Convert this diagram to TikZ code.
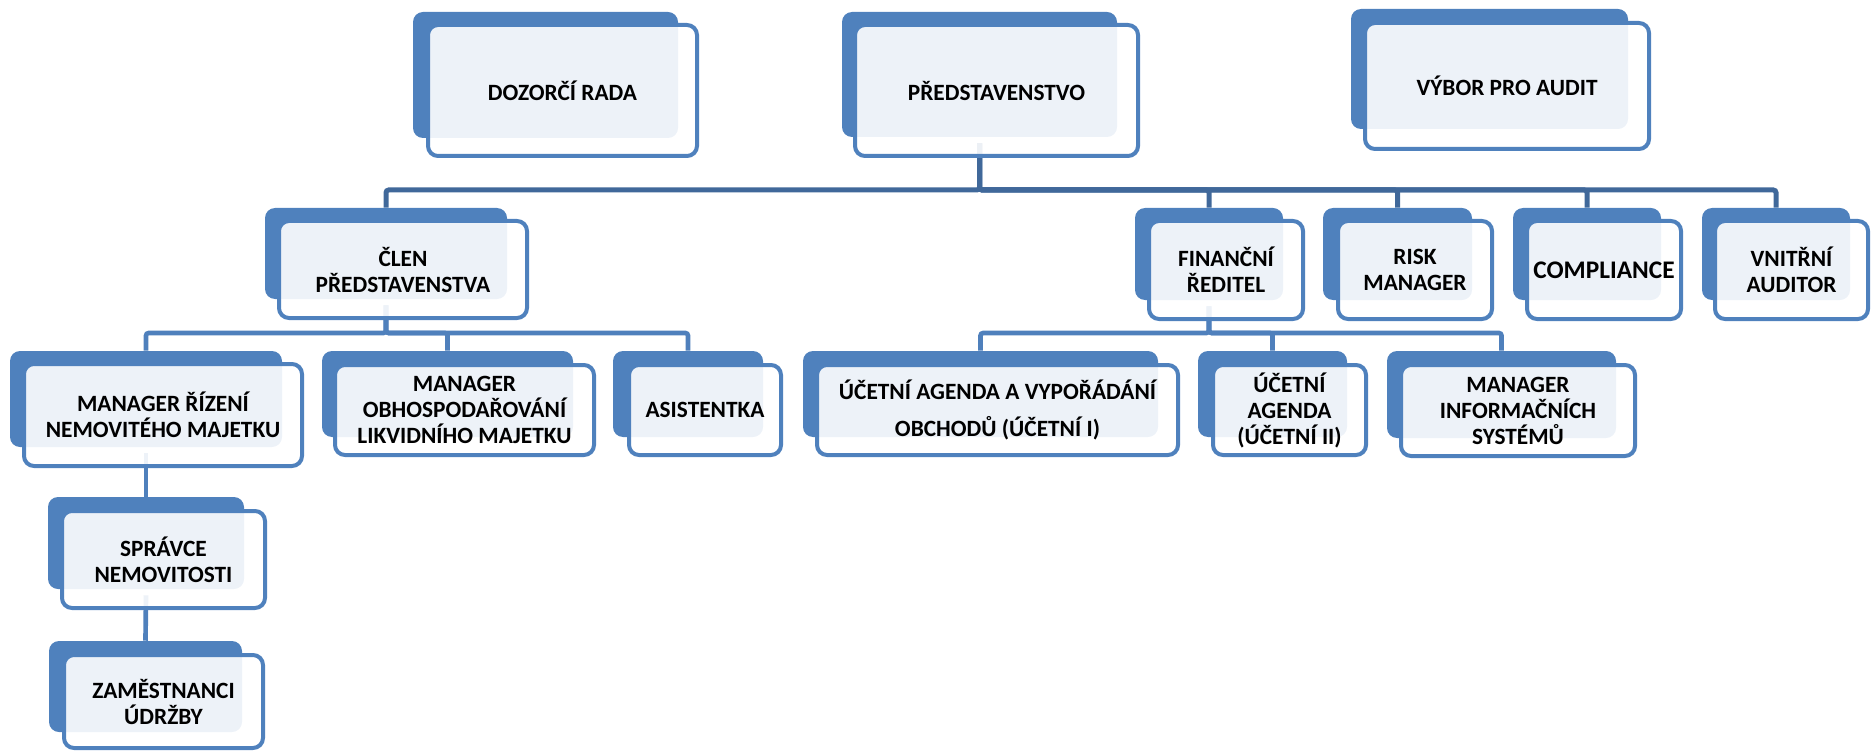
\documentclass[tikz,border=0pt]{standalone}
\usepackage{fontspec}
\setmainfont{Carlito}
\usetikzlibrary{calc}
\pgfdeclarelayer{bg}
\pgfsetlayers{bg,main}
\definecolor{accent}{RGB}{79,129,189}
\definecolor{connA}{RGB}{64,104,154}
\definecolor{connB}{RGB}{79,128,188}
\tikzset{
  backshape/.style={fill=accent, rounded corners=7.5pt, inner sep=0pt},
  frontshape/.style={draw=accent, line width=3pt, fill=white, fill opacity=0.9, text opacity=1,
    rounded corners=7.5pt, inner sep=0pt, align=center, text=black,
    font=\bfseries\fontsize{17.5}{19.5}\selectfont},
  connone/.style={draw=connA, line width=3.75pt, rounded corners=2pt},
  conntwo/.style={draw=connB, line width=3.5pt, rounded corners=2pt},
}
\newcommand{\backbox}[5]{\node[backshape, minimum width={(#4-#2)*0.75pt}, minimum height={(#5-#3)*0.75pt}] (#1) at ({(#2+#4)/2},{(#3+#5)/2}) {};}
\newcommand{\frontbox}[6]{\node[frontshape, minimum width={(#4-#2-4)*0.75pt}, minimum height={(#5-#3-4)*0.75pt}] (#1) at ({(#2+#4)/2},{(#3+#5)/2}) {#6};}
\begin{document}
\begin{tikzpicture}[x=0.75pt,y=-0.75pt]
\useasboundingbox (0,0) rectangle (1872,752);
% top row
\backbox{dozb}{413}{12}{678}{138}
\frontbox{doz}{426}{23}{699}{158}{DOZORČÍ RADA}
\backbox{predb}{842}{12}{1117}{137}
\frontbox{pred}{853}{23}{1140}{158}{PŘEDSTAVENSTVO}
\backbox{vyborb}{1351}{9}{1628}{129}
\frontbox{vybor}{1363}{21}{1651}{151}{VÝBOR PRO AUDIT}
% second row
\backbox{clenb}{265}{208}{507}{299}
\frontbox{clen}{277}{219}{529}{320}{ČLEN\\PŘEDSTAVENSTVA}
\backbox{finb}{1135}{208}{1283}{300}
\frontbox{fin}{1147}{219}{1305}{321}{FINANČNÍ\\ŘEDITEL}
\backbox{riskb}{1323}{208}{1472}{300}
\frontbox{risk}{1336}{219}{1494}{321}{RISK\\MANAGER}
\backbox{compb}{1513}{208}{1661}{300}
\frontbox{comp}{1525}{219}{1683}{321}{\fontsize{19}{21}\selectfont COMPLIANCE}
\backbox{vnitb}{1702}{208}{1850}{300}
\frontbox{vnit}{1713}{219}{1870}{321}{VNITŘNÍ\\AUDITOR}
% third row
\backbox{mrnb}{10}{351}{282}{447}
\frontbox{mrn}{22}{362}{304}{468}{MANAGER ŘÍZENÍ\\NEMOVITÉHO MAJETKU}
\backbox{obhb}{322}{351}{573}{437}
\frontbox{obh}{333}{363}{596}{457}{MANAGER\\OBHOSPODAŘOVÁNÍ\\LIKVIDNÍHO MAJETKU}
\backbox{asib}{613}{351}{763}{437}
\frontbox{asi}{627}{363}{783}{457}{ASISTENTKA}
\backbox{ucab}{803}{351}{1158}{437}
\frontbox{uca}{815}{363}{1180}{457}{ÚČETNÍ AGENDA A VYPOŘÁDÁNÍ\\[8.25pt]OBCHODŮ (ÚČETNÍ I)}
\backbox{uctb}{1198}{351}{1347}{437}
\frontbox{uct}{1211}{363}{1368}{457}{ÚČETNÍ\\AGENDA\\(ÚČETNÍ II)}
\backbox{misb}{1387}{351}{1616}{438}
\frontbox{mis}{1399}{363}{1637}{458}{MANAGER\\INFORMAČNÍCH\\SYSTÉMŮ}
% lower rows
\backbox{sprb}{48}{497}{244}{589}
\frontbox{spr}{60}{509}{267}{610}{SPRÁVCE\\NEMOVITOSTI}
\backbox{zamb}{49}{641}{242}{732}
\frontbox{zam}{62}{653}{265}{750}{ZAMĚSTNANCI\\ÚDRŽBY}
% connectors
\coordinate (busone) at (0,190);
\coordinate (bustwo) at (0,333);
\coordinate (predstem) at ($(predb.south)+(0,6)$);
\coordinate (clenstem) at ($(clenb.south)+(0,6)$);
\coordinate (finstem) at ($(finb.south)+(0,6)$);
\coordinate (mrnstem) at ($(mrnb.south)+(0,6)$);
\coordinate (sprstem) at ($(sprb.south)+(0,6)$);
\begin{pgfonlayer}{bg}
  \foreach \c in {clenb,finb,riskb,compb,vnitb}
    \draw[connone] (predstem) -- (predstem |- busone) -| (\c.north);
  \foreach \c in {mrnb,obhb,asib}
    \draw[conntwo] (clenstem) -- (clenstem |- bustwo) -| (\c.north);
  \foreach \c in {ucab,uctb,misb}
    \draw[conntwo] (finstem) -- (finstem |- bustwo) -| (\c.north);
  \draw[conntwo] (mrnstem) -- (sprb.north);
  \draw[conntwo] (sprstem) -- (zamb.north);
\end{pgfonlayer}
\end{tikzpicture}
\end{document}
